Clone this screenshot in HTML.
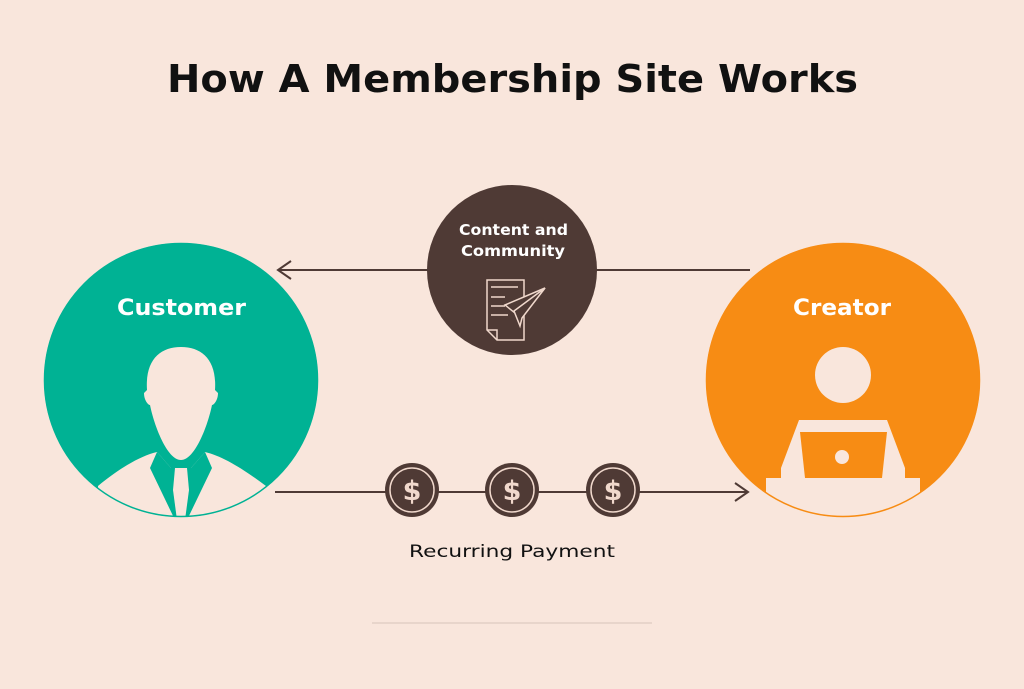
<!DOCTYPE html>
<html><head><meta charset="utf-8"><style>
html,body{margin:0;padding:0;background:#f9e6dc;}
svg{display:block}
text{font-family:"DejaVu Sans","Liberation Sans",sans-serif;font-weight:bold}
</style></head><body>
<svg width="1024" height="689" viewBox="0 0 1024 689" xmlns="http://www.w3.org/2000/svg">
<rect width="1024" height="689" fill="#f9e6dc"/>
<text x="167" y="92" font-size="38" fill="#111" textLength="691" lengthAdjust="spacingAndGlyphs">How A Membership Site Works</text>
<g stroke="#4f3a35" stroke-width="2" fill="none">
<line x1="278" y1="270" x2="750" y2="270"/>
<polyline points="291,261 278,270 291,279"/>
<line x1="275" y1="492" x2="748" y2="492"/>
<polyline points="735,483 748,492 735,501"/>
</g>
<defs>
<clipPath id="cc"><circle cx="181" cy="380" r="137"/></clipPath>
<clipPath id="cr"><circle cx="843" cy="380" r="137"/></clipPath>
</defs>
<circle cx="181" cy="380" r="137" fill="#00b294"/>
<text x="117" y="315" font-size="22" fill="#fff" textLength="129" lengthAdjust="spacingAndGlyphs">Customer</text>
<g clip-path="url(#cc)" fill="#f9e6dc">
<path d="M147,390 C145,360 160,347 181,347 C202,347 217,360 215,390 L218,393 C218,400 214,405 212,405 C208,425 195,460 181,460 C167,460 154,425 150,405 C148,405 144,400 144,393 Z"/>
<path d="M98,486 C120,468 140,456 157,452 L171,468 L191,468 L205,452 C222,456 242,468 266,486 L266,530 L98,530 Z"/>
</g>
<g clip-path="url(#cc)" fill="#00b294">
<path d="M157,452 L150,468 L175,520 L187,520 L212,468 L205,452 L191,468 L171,468 Z"/>
</g>
<path d="M175,468 L187,468 L189,490 L185,520 L177,520 L173,490 Z" fill="#f9e6dc" clip-path="url(#cc)"/>
<circle cx="181" cy="380" r="136.5" fill="none" stroke="#00b294" stroke-width="1.5"/>
<circle cx="843" cy="380" r="137" fill="#f78c14"/>
<text x="793" y="315" font-size="22" fill="#fff" textLength="98" lengthAdjust="spacingAndGlyphs">Creator</text>
<g clip-path="url(#cr)" fill="#f9e6dc">
<circle cx="843" cy="375" r="28"/>
<path d="M799,420 L887,420 L905,468 L905,478 L920,478 L920,530 L766,530 L766,478 L781,478 L781,468 Z"/>
</g>
<path d="M800,432 L887,432 L882,478 L805,478 Z" fill="#f78c14"/>
<circle cx="842" cy="457" r="7" fill="#f9e6dc"/>
<circle cx="843" cy="380" r="136.5" fill="none" stroke="#f78c14" stroke-width="1.5"/>
<circle cx="512" cy="270" r="85" fill="#4f3a35"/>
<text x="459" y="235" font-size="15" fill="#fff" textLength="109" lengthAdjust="spacingAndGlyphs">Content and</text>
<text x="461" y="256" font-size="15" fill="#fff" textLength="104" lengthAdjust="spacingAndGlyphs">Community</text>
<g stroke="#f0d8cc" stroke-width="1.5" fill="none">
<path d="M487,280 L524,280 L524,340 L497,340 L487,330 Z"/>
<path d="M487,330 L497,330 L497,340"/>
<line x1="491" y1="287" x2="518" y2="287"/>
<line x1="491" y1="297" x2="505" y2="297"/>
<line x1="491" y1="306" x2="505" y2="306"/>
<line x1="491" y1="315" x2="508" y2="315"/>
<path d="M505,305 L545,288 L520,317 Z" fill="#4f3a35"/>
<path d="M514,311 L545,288 L522,318 L520,326 Z" fill="#4f3a35"/>
</g>
<g>
<circle cx="412" cy="490" r="27" fill="#4f3a35"/><circle cx="412" cy="490" r="22" fill="none" stroke="#f0d8cc" stroke-width="1.5"/>
<text x="412" y="500" text-anchor="middle" font-size="27" fill="#f0d8cc">$</text>
<circle cx="512" cy="490" r="27" fill="#4f3a35"/><circle cx="512" cy="490" r="22" fill="none" stroke="#f0d8cc" stroke-width="1.5"/>
<text x="512" y="500" text-anchor="middle" font-size="27" fill="#f0d8cc">$</text>
<circle cx="613" cy="490" r="27" fill="#4f3a35"/><circle cx="613" cy="490" r="22" fill="none" stroke="#f0d8cc" stroke-width="1.5"/>
<text x="613" y="500" text-anchor="middle" font-size="27" fill="#f0d8cc">$</text>
</g>
<text x="409" y="557" font-size="17" fill="#111" style="font-weight:500" textLength="206" lengthAdjust="spacingAndGlyphs">Recurring Payment</text>
<line x1="372" y1="623" x2="652" y2="623" stroke="#d8c4ba" stroke-width="1"/>
</svg>
</body></html>
